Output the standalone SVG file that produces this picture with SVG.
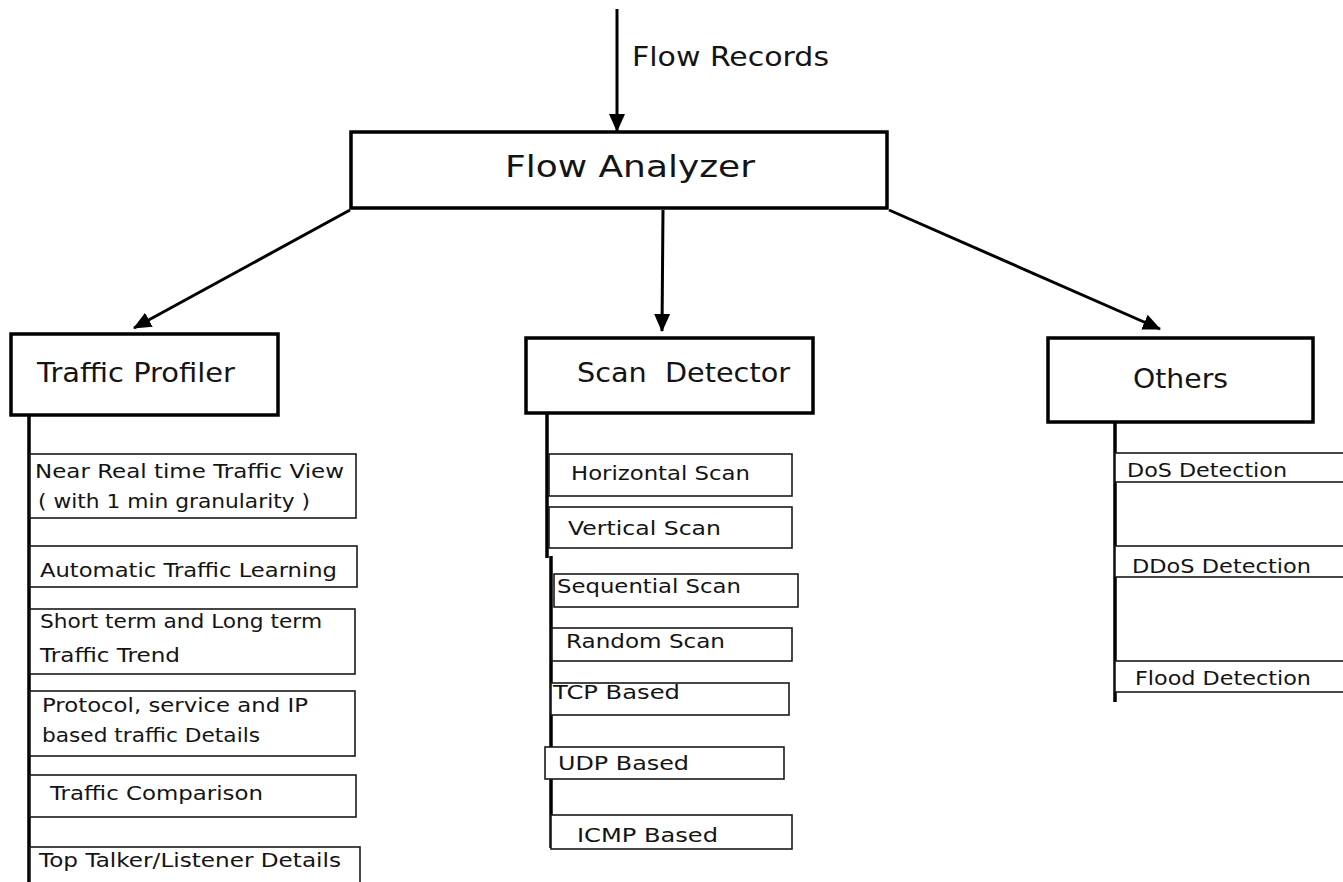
<svg xmlns="http://www.w3.org/2000/svg" width="1343" height="882" viewBox="0 0 1343 882">
<style>
text{font-family:"DejaVu Sans","Liberation Sans",sans-serif;fill:#141414}
.main{fill:#fff;stroke:#000;stroke-width:3.5}
.sub{fill:#fff;stroke:#1a1a1a;stroke-width:1.6}
.l1{font-size:30px}
.l2{font-size:27px}
.l3{font-size:19.5px}
.vl{stroke:#000;stroke-width:3.5;fill:none}
.ar{stroke:#000;stroke-width:3;fill:none;marker-end:url(#ah)}
</style>
<defs>
<marker id="ah" markerUnits="userSpaceOnUse" markerWidth="18" markerHeight="18" refX="17" refY="8" orient="auto" viewBox="0 0 18 16">
<path d="M0,0 L18,8 L0,16 z" fill="#000"/>
</marker>
</defs>
<rect width="1343" height="882" fill="#fff"/>
<g id="connectors">
<line class="ar" x1="617" y1="9" x2="617" y2="131"/>
<text class="l2" x="632" y="66" textLength="197" lengthAdjust="spacingAndGlyphs">Flow Records</text>
<line class="ar" x1="350" y1="210" x2="134" y2="328"/>
<line class="ar" x1="663" y1="210" x2="662" y2="331"/>
<line class="ar" x1="889" y1="210" x2="1160" y2="329"/>
<line class="vl" x1="29" y1="415" x2="29" y2="882"/>
<line class="vl" x1="547" y1="413" x2="547" y2="558"/>
<line class="vl" x1="551" y1="556" x2="551" y2="848"/>
<line class="vl" x1="1115" y1="422" x2="1115" y2="702"/>
</g>
<g id="flow-analyzer">
<rect class="main" x="351" y="132" width="536" height="76"/>
<text class="l1" x="505" y="177" textLength="250" lengthAdjust="spacingAndGlyphs">Flow Analyzer</text>
</g>
<g id="traffic-profiler">
<rect class="main" x="11" y="334" width="267" height="81"/>
<text class="l2" x="37" y="382" textLength="198" lengthAdjust="spacingAndGlyphs">Traffic Profiler</text>
</g>
<g id="scan-detector">
<rect class="main" x="526" y="338" width="287" height="75"/>
<text class="l2" x="577" y="382" textLength="213" lengthAdjust="spacingAndGlyphs" xml:space="preserve">Scan  Detector</text>
</g>
<g id="others">
<rect class="main" x="1048" y="338" width="265" height="84"/>
<text class="l2" x="1133" y="388" textLength="95" lengthAdjust="spacingAndGlyphs">Others</text>
</g>
<g id="tp-near-real-time">
<rect class="sub" x="30" y="454" width="326" height="64"/>
<text class="l3" x="35" y="478" textLength="309" lengthAdjust="spacingAndGlyphs">Near Real time Traffic View</text>
<text class="l3" x="38" y="508" textLength="272" lengthAdjust="spacingAndGlyphs">( with 1 min granularity )</text>
</g>
<g id="tp-automatic">
<rect class="sub" x="30" y="546" width="327" height="41"/>
<text class="l3" x="40" y="577" textLength="297" lengthAdjust="spacingAndGlyphs">Automatic Traffic Learning</text>
</g>
<g id="tp-trend">
<rect class="sub" x="30" y="609" width="325" height="65"/>
<text class="l3" x="40" y="628" textLength="282" lengthAdjust="spacingAndGlyphs">Short term  and Long term</text>
<text class="l3" x="40" y="662" textLength="140" lengthAdjust="spacingAndGlyphs">Traffic Trend</text>
</g>
<g id="tp-protocol">
<rect class="sub" x="30" y="691" width="325" height="65"/>
<text class="l3" x="42" y="712" textLength="266" lengthAdjust="spacingAndGlyphs">Protocol, service and IP</text>
<text class="l3" x="42" y="742" textLength="218" lengthAdjust="spacingAndGlyphs">based traffic Details</text>
</g>
<g id="tp-comparison">
<rect class="sub" x="30" y="775" width="326" height="42"/>
<text class="l3" x="50" y="800" textLength="213" lengthAdjust="spacingAndGlyphs">Traffic Comparison</text>
</g>
<g id="tp-top-talker">
<rect class="sub" x="30" y="847" width="330" height="45"/>
<text class="l3" x="39" y="867" textLength="302" lengthAdjust="spacingAndGlyphs">Top Talker/Listener Details</text>
</g>
<g id="sd-horizontal">
<rect class="sub" x="549" y="454" width="243" height="42"/>
<text class="l3" x="571" y="480" textLength="179" lengthAdjust="spacingAndGlyphs">Horizontal Scan</text>
</g>
<g id="sd-vertical">
<rect class="sub" x="549" y="507" width="243" height="41"/>
<text class="l3" x="568" y="535" textLength="153" lengthAdjust="spacingAndGlyphs">Vertical Scan</text>
</g>
<g id="sd-sequential">
<rect class="sub" x="554" y="574" width="244" height="33"/>
<text class="l3" x="557" y="593" textLength="184" lengthAdjust="spacingAndGlyphs">Sequential Scan</text>
</g>
<g id="sd-random">
<rect class="sub" x="552" y="628" width="240" height="33"/>
<text class="l3" x="566" y="648" textLength="159" lengthAdjust="spacingAndGlyphs">Random Scan</text>
</g>
<g id="sd-tcp">
<rect class="sub" x="551" y="683" width="238" height="32"/>
<text class="l3" x="553" y="699" textLength="127" lengthAdjust="spacingAndGlyphs">TCP Based</text>
</g>
<g id="sd-udp">
<rect class="sub" x="545" y="747" width="239" height="32"/>
<text class="l3" x="558" y="770" textLength="131" lengthAdjust="spacingAndGlyphs">UDP Based</text>
</g>
<g id="sd-icmp">
<rect class="sub" x="551" y="815" width="241" height="34"/>
<text class="l3" x="577" y="842" textLength="141" lengthAdjust="spacingAndGlyphs">ICMP Based</text>
</g>
<g id="ot-dos">
<rect class="sub" x="1115" y="453" width="240" height="29"/>
<text class="l3" x="1127" y="477" textLength="160" lengthAdjust="spacingAndGlyphs">DoS Detection</text>
</g>
<g id="ot-ddos">
<rect class="sub" x="1115" y="546" width="240" height="31"/>
<text class="l3" x="1132" y="573" textLength="179" lengthAdjust="spacingAndGlyphs">DDoS Detection</text>
</g>
<g id="ot-flood">
<rect class="sub" x="1115" y="661" width="240" height="31"/>
<text class="l3" x="1135" y="685" textLength="176" lengthAdjust="spacingAndGlyphs">Flood Detection</text>
</g>
</svg>
